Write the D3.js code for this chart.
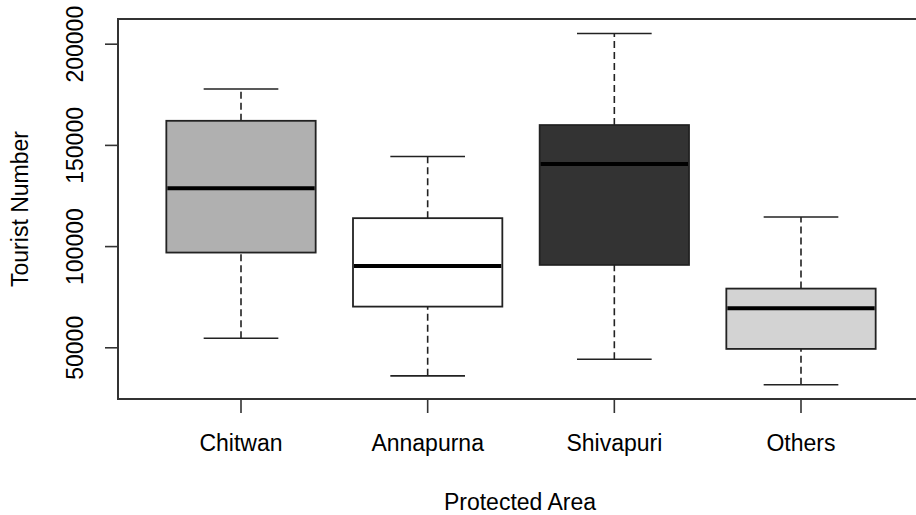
<!DOCTYPE html>
<html>
<head>
<meta charset="utf-8">
<script src="https://cdn.jsdelivr.net/npm/d3@7"></script>
<style>
  body { margin: 0; background: #fff; }
  text { font-family: "Liberation Sans", Arial, sans-serif; fill: #000; }
</style>
</head>
<body>
<svg width="916" height="515"></svg>
<script>
// Data
const categories = ['Chitwan', 'Annapurna', 'Shivapuri', 'Others'];
const lowerWhisker = [54500, 35900, 44100, 31500];
const q1 = [96800, 70100, 90700, 49200];
const medians = [128600, 90200, 140500, 69300];
const q3 = [161900, 113800, 159800, 79000];
const upperWhisker = [177600, 144300, 205000, 114400];
const yTicks = [50000, 100000, 150000, 200000];

// Styles
const boxFills = ['#b0b0b0', '#ffffff', '#333333', '#d3d3d3'];

const svg = d3.select('svg');
const frame = { left: 118, right: 924, top: 19, bottom: 399 };

const xScale = d3.scaleBand()
    .domain(categories)
    .range([147.67, 894.33])
    .paddingInner(0.2)
    .paddingOuter(0.1);

const yScale = d3.scaleLinear()
    .domain([24450, 212200])
    .range([frame.bottom, frame.top]);

const boxes = categories.map((c, i) => ({
    name: c,
    lo: lowerWhisker[i],
    q1: q1[i],
    med: medians[i],
    q3: q3[i],
    hi: upperWhisker[i],
    fill: boxFills[i]
}));

const bw = xScale.bandwidth();
const g = svg.append('g');

boxes.forEach(d => {
    const x0 = xScale(d.name);
    const cx = x0 + bw / 2;
    const box = g.append('g');

    // whiskers
    [[d.lo, d.q1], [d.q3, d.hi]].forEach(([a, b]) => {
        box.append('line')
            .attr('x1', cx).attr('x2', cx)
            .attr('y1', yScale(a)).attr('y2', yScale(b))
            .attr('stroke', '#222')
            .attr('stroke-width', 1.6)
            .attr('stroke-dasharray', '7,4');
    });
    // staples
    [d.lo, d.hi].forEach(v => {
        box.append('line')
            .attr('x1', cx - bw / 4).attr('x2', cx + bw / 4)
            .attr('y1', yScale(v)).attr('y2', yScale(v))
            .attr('stroke', '#222')
            .attr('stroke-width', 1.6);
    });
    // box
    box.append('rect')
        .attr('x', x0)
        .attr('y', yScale(d.q3))
        .attr('width', bw)
        .attr('height', yScale(d.q1) - yScale(d.q3))
        .attr('fill', d.fill)
        .attr('stroke', '#222')
        .attr('stroke-width', 1.8);
    // median
    box.append('line')
        .attr('x1', x0 + 1).attr('x2', x0 + bw - 1)
        .attr('y1', yScale(d.med)).attr('y2', yScale(d.med))
        .attr('stroke', '#000')
        .attr('stroke-width', 4);
});

// Frame
svg.append('rect')
    .attr('x', frame.left)
    .attr('y', frame.top)
    .attr('width', frame.right - frame.left)
    .attr('height', frame.bottom - frame.top)
    .attr('fill', 'none')
    .attr('stroke', '#333')
    .attr('stroke-width', 2);

// Y axis
const yAxis = svg.append('g')
    .attr('transform', `translate(${frame.left}, 0)`)
    .call(d3.axisLeft(yScale).tickValues(yTicks).tickSize(13).tickFormat(d3.format('d')));
yAxis.select('.domain').remove();
yAxis.selectAll('.tick line').attr('stroke', '#333').attr('stroke-width', 1.6);
yAxis.selectAll('.tick text')
    .attr('x', 0)
    .attr('y', -35)
    .attr('dy', 0)
    .attr('transform', 'rotate(-90)')
    .attr('text-anchor', 'middle')
    .style('font-size', '23px')
    .style('font-family', '"Liberation Sans", Arial, sans-serif')
    .attr('fill', '#000');

// X axis
const xAxis = svg.append('g')
    .attr('transform', `translate(0, ${frame.bottom})`)
    .call(d3.axisBottom(xScale).tickSize(14));
xAxis.select('.domain').remove();
xAxis.selectAll('.tick line').attr('stroke', '#333').attr('stroke-width', 1.6);
xAxis.selectAll('.tick text')
    .attr('y', 52)
    .attr('dy', 0)
    .style('font-size', '23px')
    .style('font-family', '"Liberation Sans", Arial, sans-serif')
    .attr('fill', '#000');

// Axis titles
svg.append('text')
    .attr('x', (frame.left + 916) / 2 + 3)
    .attr('y', 510)
    .attr('text-anchor', 'middle')
    .style('font-size', '23px')
    .text('Protected Area');

svg.append('text')
    .attr('transform', `translate(28, ${(frame.top + frame.bottom) / 2}) rotate(-90)`)
    .attr('text-anchor', 'middle')
    .style('font-size', '23px')
    .text('Tourist Number');
</script>
</body>
</html>
